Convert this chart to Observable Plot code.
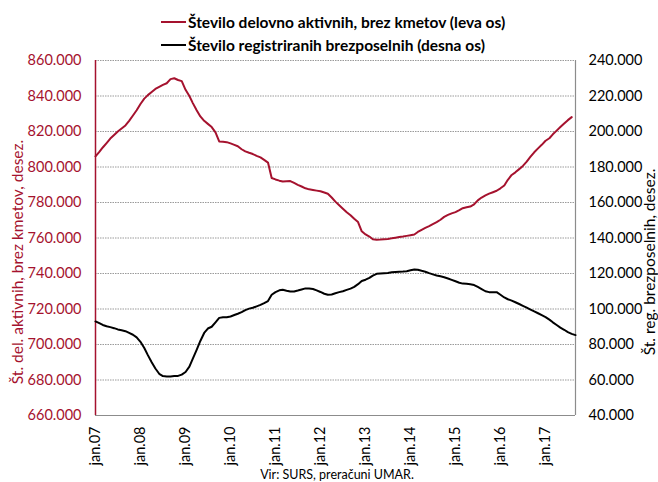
<!DOCTYPE html>
<html>
<head>
<meta charset="utf-8">
<script src="https://cdn.jsdelivr.net/npm/d3@7"></script>
<script src="https://cdn.jsdelivr.net/npm/@observablehq/plot@0.6"></script>
<style>
  html, body { margin: 0; padding: 0; background: #fff; }
  body { width: 658px; height: 482px; overflow: hidden; font-family: Lato, "Open Sans", sans-serif; }
  #legend { position: relative; height: 52px; }
  .item { position: absolute; left: 161px; height: 20px; display: flex; align-items: center;
          font-weight: bold; font-size: 15.5px; color: #000; white-space: nowrap; }
  .sw { width: 25px; height: 2px; margin-right: 2px; }
  #chart svg { display: block; }
  #caption { text-align: center; font-size: 12.5px; color: #000; margin-left: 16px; line-height: 14px; }
</style>
</head>
<body>
<div id="legend"></div>
<div id="chart"></div>
<div id="caption"></div>
<script>
// ---------- data ----------
const startYear = 2007;            // first month: January 2007
const seriesNames = ["Število delovno aktivnih, brez kmetov (leva os)",
                     "Število registriranih brezposelnih (desna os)"];
const seriesColors = ["#a5122e", "#000000"];
const axisTitles = ["Št. del. aktivnih, brez kmetov, desez.", "Št. reg. brezposelnih, desez."];
const caption = "Vir: SURS, preračuni UMAR.";
const leftTicks = [660000, 680000, 700000, 720000, 740000, 760000, 780000, 800000, 820000, 840000, 860000];
const rightTicks = [40000, 60000, 80000, 100000, 120000, 140000, 160000, 180000, 200000, 220000, 240000];
const xTickYears = [2007, 2008, 2009, 2010, 2011, 2012, 2013, 2014, 2015, 2016, 2017];
const xEnd = [2017, 8]; // September 2017 (month index)

// monthly, thousands — persons in employment excl. farmers (left axis)
const employed = [
  806.0, 808.5, 811.0, 813.5, 816.0, 818.0, 820.0, 821.7, 823.4, 826.0, 829.0, 832.0,
  835.5, 838.5, 840.5, 842.3, 844.0, 845.2, 846.3, 847.2, 849.5, 850.0, 849.0, 848.4,
  843.5, 840.0, 836.0, 832.0, 828.5, 826.0, 824.3, 822.5, 819.5, 814.4, 814.2, 814.0,
  813.3, 812.5, 811.7, 810.0, 808.8, 808.0, 807.3, 806.3, 805.4, 804.0, 802.5, 793.8,
  793.0, 792.3, 791.8, 792.0, 792.1, 791.0, 789.9, 789.0, 788.0, 787.4, 787.1, 786.7,
  786.3, 785.6, 784.9, 782.8, 780.5, 778.5, 776.5, 774.5, 772.8, 770.8, 769.0, 763.8,
  762.0, 760.8, 759.3, 759.0, 759.1, 759.3, 759.5, 759.8, 760.2, 760.5, 760.8, 761.2,
  761.6, 762.0, 763.4, 764.6, 765.7, 766.7, 767.8, 768.9, 770.3, 771.9, 773.0, 773.9,
  774.6, 775.7, 776.8, 777.3, 777.7, 779.0, 781.2, 782.8, 784.0, 785.0, 785.8, 786.6,
  788.0, 789.6, 792.8, 795.5, 797.0, 798.8, 800.6, 803.0, 805.8, 808.3, 810.5, 812.5,
  814.8, 816.2, 818.4, 820.5, 822.5, 824.5, 826.4, 828.1
];
// monthly, thousands — registered unemployed (right axis)
const unemployed = [
  93.0, 92.0, 91.0, 90.3, 89.8, 89.2, 88.5, 88.0, 87.5, 86.5, 85.5, 84.0,
  81.5, 78.0, 74.0, 70.0, 66.5, 63.5, 62.2, 62.0, 62.0, 62.2, 62.3, 63.0,
  64.5, 67.5, 72.0, 77.0, 82.0, 86.5, 89.0, 90.0, 92.5, 95.0, 95.4, 95.4,
  95.8, 96.6, 97.3, 98.2, 99.4, 100.2, 100.7, 101.5, 102.3, 103.3, 104.5, 108.0,
  109.5, 110.5, 110.8, 110.3, 109.9, 109.9, 110.4, 111.0, 111.6, 111.6, 111.3, 110.5,
  109.6, 108.6, 108.0, 108.2, 108.9, 109.5, 110.0, 110.8, 111.5, 112.5, 114.0, 115.8,
  116.5, 117.5, 118.8, 119.8, 120.0, 120.2, 120.3, 120.7, 120.9, 121.0, 121.1, 121.3,
  121.8, 122.3, 122.1, 121.5, 121.0, 120.2, 119.5, 118.9, 118.4, 117.9, 117.2, 116.4,
  115.6, 114.8, 114.3, 114.2, 113.9, 113.5, 112.4, 111.2, 110.0, 109.5, 109.5, 109.5,
  108.0, 106.5, 105.5, 104.7, 103.8, 102.8, 101.8, 100.8, 99.7, 98.7, 97.6, 96.5,
  95.4, 94.0, 92.5, 91.0, 89.5, 88.3, 87.0, 86.0, 85.3
];

// ---------- build ----------
const red = seriesColors[0];
const OFFSET = 620000; // right axis value + OFFSET = left axis value
const monthDate = i => new Date(Date.UTC(startYear, i, 1));
const empRows = employed.map((v, i) => ({date: monthDate(i), v: v * 1000}));
const unRows = unemployed.map((v, i) => ({date: monthDate(i), v: v * 1000 + OFFSET}));
const xTicks = xTickYears.map(y => new Date(Date.UTC(y, 0, 1)));
const xDomain = [new Date(Date.UTC(startYear, 0, 1)), new Date(Date.UTC(xEnd[0], xEnd[1], 1))];
const fmt = d => d3.format(",")(d).replace(/,/g, ".");

// legend
const legend = document.getElementById("legend");
seriesNames.forEach((name, i) => {
  const it = document.createElement("div");
  it.className = "item";
  it.style.top = (12 + i * 23) + "px";
  it.innerHTML = `<span class="sw" style="background:${seriesColors[i]}"></span><span>${name}</span>`;
  legend.appendChild(it);
});
document.getElementById("caption").textContent = caption;

const chart = Plot.plot({
  width: 658,
  height: 416,
  marginLeft: 95,
  marginRight: 83,
  marginTop: 8,
  marginBottom: 53,
  style: {fontFamily: "Lato, 'Open Sans', sans-serif", fontSize: "14.5px", background: "white", color: "#000"},
  x: {type: "utc", domain: xDomain},
  y: {domain: [leftTicks[0], leftTicks[leftTicks.length - 1]]},
  marks: [
    Plot.ruleY(leftTicks.slice(1), {stroke: "#9a9a9a", strokeWidth: 1, strokeDasharray: "1.5,1"}),
    Plot.ruleY([leftTicks[0]], {stroke: "#8c8c8c", strokeWidth: 1.2}),
    Plot.ruleX([xDomain[1]], {stroke: "#8c8c8c", strokeWidth: 1.2}),
    Plot.ruleX([xDomain[0]], {stroke: red, strokeWidth: 1.5}),
    Plot.line(unRows, {x: "date", y: "v", stroke: seriesColors[1], strokeWidth: 2}),
    Plot.line(empRows, {x: "date", y: "v", stroke: red, strokeWidth: 2}),
    Plot.axisY(leftTicks, {anchor: "left", tickSize: 0, tickPadding: 14, tickFormat: fmt, fill: red, label: null}),
    Plot.axisY(rightTicks.map(v => v + OFFSET), {anchor: "right", tickSize: 0, tickPadding: 13, tickFormat: d => fmt(d - OFFSET), fill: "#000", label: null}),
    Plot.axisX(xTicks, {anchor: "bottom", tickSize: 0, tickPadding: 11, tickRotate: -90,
      tickFormat: d => "jan." + String(d.getUTCFullYear()).slice(2), label: null, fontSize: 14.5}),
    Plot.text([axisTitles[0]], {text: d => d, frameAnchor: "left", textAnchor: "middle", rotate: -90, dx: -77, dy: 24, fill: red, fontSize: 15.5}),
    Plot.text([axisTitles[1]], {text: d => d, frameAnchor: "right", textAnchor: "middle", rotate: -90, dx: 75, dy: 24, fill: "#000", fontSize: 15.5})
  ]
});
document.getElementById("chart").appendChild(chart);
</script>
</body>
</html>
